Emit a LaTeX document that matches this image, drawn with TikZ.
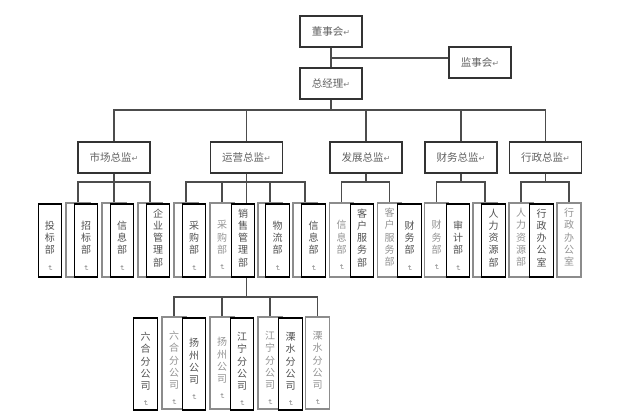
\documentclass[tikz,border=0pt]{standalone}
\usepackage{fontspec}
\usepackage{graphicx}
\newfontfamily\cjk{Noto Sans CJK SC}
\newfontfamily\symf{DejaVu Sans}
\newcommand\hmk{{\color{black!50}\fontsize{8}{8}\selectfont\symf ↵}}
\newcommand\vmk{{\color{black!50}\rotatebox{-90}{\fontsize{7}{7}\selectfont\symf ↵}}}
\newcommand\vfnt{\fontsize{10}{12}\selectfont\cjk}
\newcommand\vch[1]{\hbox to 20pt{\hss\vrule width 0pt height 9.3pt depth 2.9pt\smash{#1}\hss}}
\def\vcolloop#1{\ifx#1\relax\else\vch{#1}\expandafter\vcolloop\fi}
\newcommand\vcol[1]{\vbox{\offinterlineskip\vcolloop#1\relax\vch{\raisebox{1pt}{\vmk}}}}
\begin{document}
\begin{tikzpicture}[x=1pt,y=-1pt,
 hbox/.style={draw=black!80,line width=1.1pt,fill=white,minimum width=62pt,minimum height=31pt,inner sep=0pt,font=\fontsize{10.5}{12}\selectfont\cjk,text=black!62},
 dbox/.style={hbox,minimum width=72pt},
 conn/.style={draw=black!70,line width=1.1pt},
 gbox/.style={draw=black!45,line width=1.1pt,fill=white,minimum width=24pt,minimum height=74pt,inner sep=0pt},
 bbox/.style={draw=black,line width=1.1pt,fill=white,minimum width=23.5pt,minimum height=73pt,inner sep=0pt},
 sgbox/.style={gbox,minimum height=92pt},
 sbbox/.style={bbox,minimum height=92pt},
 vt/.style={draw=none,fill=none,inner sep=0pt,font=\vfnt},
 gt/.style={path picture={\node[vt,text=black!42] at ([yshift=-4pt]path picture bounding box.center) {\vcol{#1}};}},
 bt/.style={path picture={\node[vt,text=black!68] at ([yshift=-4pt]path picture bounding box.center) {\vcol{#1}};}},
 ]
\fill[white] (0,0) rectangle (619,417);
\useasboundingbox (0,0) rectangle (619,417);

% top
\node[hbox] (ds) at (331,31.5) {董事会\hmk};
\node[hbox] (js) at (480,62.5) {监事会\hmk};
\node[hbox] (zj) at (331,83.5) {总经理\hmk};

% directors
\node[dbox] (d1) at (114,157.5) {市场总监\hmk};
\node[dbox] (d2) at (246.5,157.5) {运营总监\hmk};
\node[dbox] (d3) at (366,157.5) {发展总监\hmk};
\node[dbox] (d4) at (461,157.5) {财务总监\hmk};
\node[dbox] (d5) at (545.5,157.5) {行政总监\hmk};

% helper coordinates
\coordinate (j1) at (331,58);
\coordinate (tb) at (331,110);
\coordinate (yb) at (0,182);
\coordinate (ys) at (0,297);

% ghost department boxes
\node[gbox] (g1) at (78,240) {};
\node[gbox] (g2) at (114,240) {};
\node[gbox] (g3) at (150,240) {};
\node[gbox] (g4) at (186,240) {};
\node[gbox,gt={采购部}] (g5) at (222,240) {};
\node[gbox] (g7) at (270,240) {};
\node[gbox] (g8) at (305,240) {};
\node[gbox,gt={信息部}] (g9) at (341.5,240) {};
\node[gbox,gt={客户服务部}] (g10) at (389.5,240) {};
\node[gbox,gt={财务部}] (g11) at (436.5,240) {};
\node[gbox] (g12) at (485,240) {};
\node[gbox,gt={人力资源部}] (g13) at (521,240) {};
\node[gbox,gt={行政办公室}] (g14) at (569,240) {};

% ghost subsidiary boxes
\node[sgbox,gt={六合分公司}] (sg1) at (174,363) {};
\node[sgbox,gt={扬州公司}] (sg2) at (222,363) {};
\node[sgbox,gt={江宁分公司}] (sg3) at (270,363) {};
\node[sgbox,gt={溧水分公司}] (sg4) at (317.5,363) {};

% connectors
\draw[conn] (ds.south) -- (zj.north);
\draw[conn] (j1) -- (j1 -| js.west);
\draw[conn] (zj.south) -- (tb);
\draw[conn] (d1.north) |- (tb -| d5.north) -- (d5.north);
\foreach \n in {d2,d3,d4} \draw[conn] (\n.north) -- (\n.north |- tb);

\draw[conn] (d1.south) -- (d1.south |- yb);
\draw[conn] (g1.north) |- (g3.north |- yb) -- (g3.north);
\draw[conn] (g2.north) -- (g2.north |- yb);

\draw[conn] (d2.south) -- (d2.south |- ys);
\draw[conn] (g4.north) |- (g8.north |- yb) -- (g8.north);
\foreach \n in {g5,g7} \draw[conn] (\n.north) -- (\n.north |- yb);

\draw[conn] (d3.south) -- (d3.south |- yb);
\draw[conn] (g9.north) |- (g10.north |- yb) -- (g10.north);

\draw[conn] (d4.south) -- (d4.south |- yb);
\draw[conn] (g11.north) |- (g12.north |- yb) -- (g12.north);

\draw[conn] (d5.south) -- (d5.south |- yb);
\draw[conn] (g13.north) |- (g14.north |- yb) -- (g14.north);

\draw[conn] (sg1.north) |- (sg4.north |- ys) -- (sg4.north);
\foreach \n in {sg2,sg3} \draw[conn] (\n.north) -- (\n.north |- ys);

% black department boxes
\node[bbox,bt={投标部}] (b1) at (50,240.5) {};
\node[bbox,bt={招标部}] (b2) at (86,240.5) {};
\node[bbox,bt={信息部}] (b3) at (122,240.5) {};
\node[bbox,bt={企业管理部}] (b4) at (158,240.5) {};
\node[bbox,bt={采购部}] (b5) at (194,240.5) {};
\node[bbox,bt={销售管理部}] (b6) at (243,240.5) {};
\node[bbox,bt={物流部}] (b7) at (277.5,240.5) {};
\node[bbox,bt={信息部}] (b8) at (313.5,240.5) {};
\node[bbox,bt={客户服务部}] (b9) at (362,240.5) {};
\node[bbox,bt={财务部}] (b10) at (409.5,240.5) {};
\node[bbox,bt={审计部}] (b11) at (458,240.5) {};
\node[bbox,bt={人力资源部}] (b12) at (493.5,240.5) {};
\node[bbox,bt={行政办公室}] (b13) at (541.5,240.5) {};

% black subsidiary boxes
\node[sbbox,bt={六合分公司}] (sb1) at (145.5,364) {};
\node[sbbox,bt={扬州公司}] (sb2) at (194,364) {};
\node[sbbox,bt={江宁分公司}] (sb3) at (242,364) {};
\node[sbbox,bt={溧水分公司}] (sb4) at (290.5,364) {};
\end{tikzpicture}
\end{document}
